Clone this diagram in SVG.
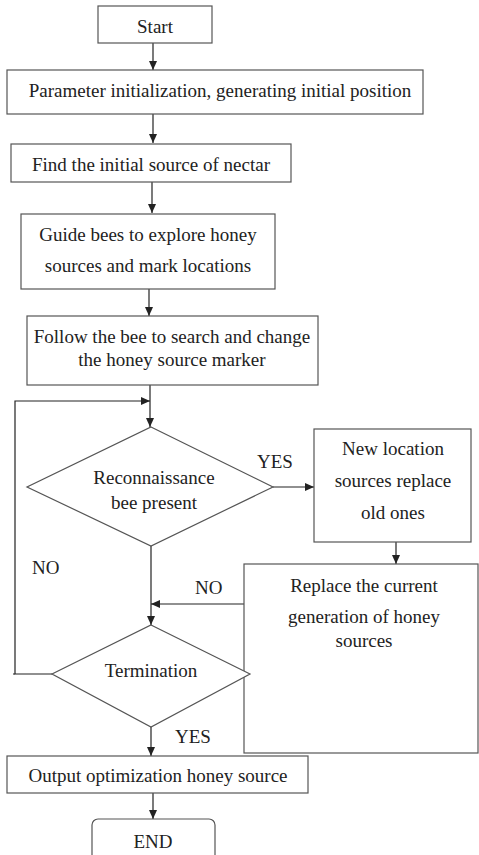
<svg xmlns="http://www.w3.org/2000/svg" width="479" height="855" viewBox="0 0 479 855" font-family="Liberation Serif, Times New Roman, serif" font-size="19">
<defs>
<marker id="ah" markerWidth="10" markerHeight="8" refX="9" refY="4" orient="auto" markerUnits="userSpaceOnUse">
<path d="M0,0 L9,4 L0,8 Z" fill="#222"/>
</marker>
<style>
.box{fill:#fff;stroke:#555;stroke-width:1.2}
.ln{fill:none;stroke:#222;stroke-width:1.2}
text{fill:#222}
.t{text-anchor:middle}
</style>
</defs>
<rect width="479" height="855" fill="#fff"/>
<g id="connectors">
<line class="ln" x1="153" y1="43" x2="153" y2="70" marker-end="url(#ah)"/>
<line class="ln" x1="153" y1="114" x2="153" y2="143" marker-end="url(#ah)"/>
<line class="ln" x1="152" y1="182" x2="152" y2="213" marker-end="url(#ah)"/>
<line class="ln" x1="149" y1="289" x2="149" y2="316" marker-end="url(#ah)"/>
<line class="ln" x1="150" y1="385" x2="150" y2="427" marker-end="url(#ah)"/>
<line class="ln" x1="273" y1="487" x2="314" y2="487" marker-end="url(#ah)"/>
<line class="ln" x1="396" y1="542" x2="396" y2="564" marker-end="url(#ah)"/>
<line class="ln" x1="244" y1="604" x2="151" y2="604" marker-end="url(#ah)"/>
<line class="ln" x1="151" y1="546" x2="151" y2="625" marker-end="url(#ah)"/>
<polyline class="ln" points="52,674 15,674 15,401 150,401" marker-end="url(#ah)"/>
<line class="ln" x1="13" y1="674" x2="15" y2="674"/>
<line class="ln" x1="151" y1="727" x2="151" y2="756" marker-end="url(#ah)"/>
<line class="ln" x1="153" y1="793" x2="153" y2="819" marker-end="url(#ah)"/>
<text x="257" y="468">YES</text>
<text x="32" y="574">NO</text>
<text x="195" y="594">NO</text>
<text x="175" y="743">YES</text>
</g>
<g id="start">
<rect class="box" x="98" y="6" width="114" height="37"/>
<text class="t" x="155" y="33">Start</text>
</g>
<g id="init">
<rect class="box" x="7" y="70" width="416" height="44"/>
<text class="t" x="220" y="97">Parameter initialization, generating initial position</text>
</g>
<g id="find">
<rect class="box" x="11" y="144" width="280" height="38"/>
<text class="t" x="151" y="171">Find the initial source of nectar</text>
</g>
<g id="guide">
<rect class="box" x="21" y="214" width="254" height="75"/>
<text class="t" x="148" y="241">Guide bees to explore honey</text>
<text class="t" x="148" y="272">sources and mark locations</text>
</g>
<g id="follow">
<rect class="box" x="27" y="316" width="291" height="69"/>
<text class="t" x="172" y="343">Follow the bee to search and change</text>
<text class="t" x="172" y="366">the honey source marker</text>
</g>
<g id="recon">
<polygon class="box" points="151,427 273,487 151,546 27,487"/>
<text class="t" x="154" y="484">Reconnaissance</text>
<text class="t" x="154" y="509">bee present</text>
</g>
<g id="newloc">
<rect class="box" x="314" y="429" width="157" height="113"/>
<text class="t" x="393" y="455">New location</text>
<text class="t" x="393" y="487">sources replace</text>
<text class="t" x="393" y="519">old ones</text>
</g>
<g id="replace">
<rect class="box" x="244" y="564" width="234" height="189"/>
<text class="t" x="364" y="592">Replace the current</text>
<text class="t" x="364" y="623">generation of honey</text>
<text class="t" x="364" y="647">sources</text>
</g>
<g id="termination">
<polygon class="box" points="151,625 250,674 151,727 52,674"/>
<text class="t" x="151" y="677">Termination</text>
</g>
<g id="output">
<rect class="box" x="7" y="756" width="301" height="37"/>
<text class="t" x="158" y="782">Output optimization honey source</text>
</g>
<g id="end">
<rect class="box" x="92" y="819" width="123" height="45" rx="6"/>
<text class="t" x="153" y="848">END</text>
</g>
</svg>
